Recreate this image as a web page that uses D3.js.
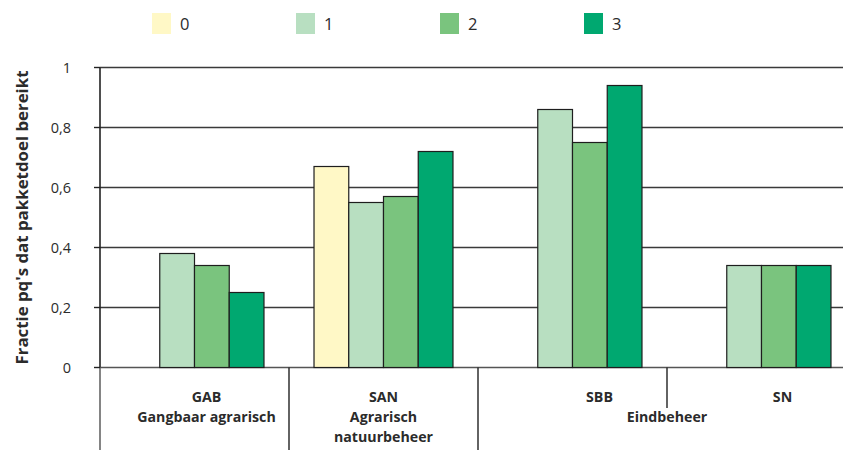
<!DOCTYPE html>
<html>
<head>
<meta charset="utf-8">
<script src="https://cdn.jsdelivr.net/npm/d3@7"></script>
<style>
  html, body { margin: 0; padding: 0; background: #fff; }
  svg { display: block; }
  text { font-family: "Open Sans", "DejaVu Sans", sans-serif; fill: #2b2b2b; }
</style>
</head>
<body>
<svg id="chart" width="843" height="450"></svg>
<script>
// Beheertypen (groepen) en scoreklassen (reeksen)
const groups = ["GAB", "SAN", "SBB", "SN"];
const groupLines = [
  ["GAB", "Gangbaar agrarisch"],
  ["SAN", "Agrarisch", "natuurbeheer"],
  ["SBB"],
  ["SN"]
];
const groupLabelShift = [12, 0, 27, 21];
const superLabel = "Eindbeheer";
const seriesNames = ["0", "1", "2", "3"];
const seriesColors = ["#fff8c6", "#b8dfc1", "#7ac47e", "#00a870"];

// Fractie per reeks, in volgorde van de groepen
const series0 = [null, 0.67, null, null];
const series1 = [0.38, 0.55, 0.86, 0.34];
const series2 = [0.34, 0.57, 0.75, 0.34];
const series3 = [0.25, 0.72, 0.94, 0.34];
const seriesValues = [series0, series1, series2, series3];

const yTicks = [0, 0.2, 0.4, 0.6, 0.8, 1];
const yTitle = "Fractie pq's dat pakketdoel bereikt";

const svg = d3.select("#chart");
const plotLeft = 100, plotBottom = 367.5, plotTop = 67.5;

const x0 = d3.scaleBand().domain(groups).range([plotLeft, 856]).padding(0);
const x1 = d3.scaleBand().domain(seriesNames).range([0, x0.bandwidth()])
  .paddingInner(0).paddingOuter(0.72);
const y = d3.scaleLinear().domain([0, 1]).range([plotBottom, plotTop]);

const nl = d3.formatLocale({ decimal: ",", thousands: ".", grouping: [3], currency: ["€", ""] });
const fmt = nl.format("~g");

// Rasterlijnen
svg.append("g").selectAll("line").data(yTicks).join("line")
  .attr("x1", plotLeft).attr("x2", 843)
  .attr("y1", d => y(d)).attr("y2", d => y(d))
  .attr("stroke", d => d === 0 ? "#555" : "#3a3a3a")
  .attr("stroke-width", 1.6);

// Staven
const barData = [];
seriesValues.forEach((vals, si) => {
  vals.forEach((v, gi) => {
    if (v != null) barData.push({ g: groups[gi], s: seriesNames[si], v, c: seriesColors[si] });
  });
});
svg.append("g").selectAll("rect").data(barData).join("rect")
  .attr("x", d => x0(d.g) + x1(d.s))
  .attr("width", x1.bandwidth())
  .attr("y", d => y(d.v))
  .attr("height", d => y(0) - y(d.v))
  .attr("fill", d => d.c)
  .attr("stroke", "#1e1e1e")
  .attr("stroke-width", 1.2);

// Y-as met tickmarks en labels
const yAxis = svg.append("g");
yAxis.append("line").attr("x1", plotLeft).attr("x2", plotLeft).attr("y1", plotTop).attr("y2", plotBottom)
  .attr("stroke", "#222").attr("stroke-width", 1.6);
yAxis.append("line").attr("x1", plotLeft).attr("x2", plotLeft).attr("y1", plotBottom).attr("y2", 450)
  .attr("stroke", "#666").attr("stroke-width", 1.6);
yAxis.selectAll("line.tick").data(yTicks).join("line").attr("class", "tick")
  .attr("x1", plotLeft - 6).attr("x2", plotLeft)
  .attr("y1", d => y(d)).attr("y2", d => y(d))
  .attr("stroke", "#222").attr("stroke-width", 1.4);
yAxis.selectAll("text").data(yTicks).join("text")
  .attr("x", 71).attr("y", d => y(d) + 5)
  .attr("text-anchor", "end")
  .style("font-size", "14.5px")
  .text(d => fmt(d));

// As-titel
svg.append("text")
  .attr("transform", `translate(28,${(70 + 365) / 2}) rotate(-90)`)
  .attr("text-anchor", "middle")
  .attr("textLength", 294).attr("lengthAdjust", "spacingAndGlyphs")
  .style("font-size", "15.5px").style("font-weight", "700")
  .text(yTitle);

// Scheidingslijnen tussen groepen onder de as
const dividers = groups.slice(1).map((g, i) => ({ x: x0(g), short: i === 2 }));
svg.append("g").selectAll("line").data(dividers).join("line")
  .attr("x1", d => d.x).attr("x2", d => d.x)
  .attr("y1", plotBottom).attr("y2", d => d.short ? 408 : 450)
  .attr("stroke", "#222").attr("stroke-width", 1.4);

// Groepslabels
const gl = svg.append("g");
groups.forEach((g, i) => {
  const cx = x0(g) + x0.bandwidth() / 2 + groupLabelShift[i];
  groupLines[i].forEach((line, li) => {
    gl.append("text")
      .attr("x", cx).attr("y", 402 + li * 20)
      .attr("text-anchor", "middle")
      .style("font-size", "14.2px").style("font-weight", "700")
      .text(line);
  });
});
gl.append("text")
  .attr("x", x0("SN")).attr("y", 422)
  .attr("text-anchor", "middle")
  .style("font-size", "14.2px").style("font-weight", "700")
  .text(superLabel);

// Legenda
const legend = svg.append("g");
const lx = d3.scalePoint().domain(seriesNames).range([152, 584]);
seriesNames.forEach((s, i) => {
  legend.append("rect")
    .attr("x", lx(s)).attr("y", 13).attr("width", 19).attr("height", 21)
    .attr("fill", seriesColors[i]);
  legend.append("text")
    .attr("x", lx(s) + 28).attr("y", 30)
    .style("font-size", "16.5px")
    .text(s);
});
</script>
</body>
</html>
